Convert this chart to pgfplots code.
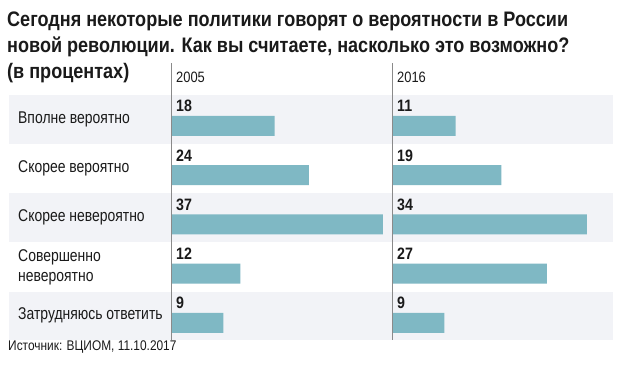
\documentclass[border=0pt]{standalone}
\usepackage{pgfplots}
\pgfplotsset{compat=1.18}
\usepackage{fontspec}
\setmainfont{Liberation Sans}
\newfontfamily\titlefont[FakeStretch=0.86]{Liberation Sans}
\newfontfamily\catfont[FakeStretch=0.82]{Liberation Sans}
\newfontfamily\srcfont[FakeStretch=0.85]{Liberation Sans}
\newfontfamily\numfont[FakeStretch=0.86]{Liberation Sans}
\definecolor{band}{HTML}{F2F3F7}
\definecolor{barc}{HTML}{7FB8C4}
\definecolor{txt}{HTML}{1A1A1A}
\definecolor{divc}{HTML}{8A8A8A}
\begin{document}
\begin{tikzpicture}[x=1pt,y=1pt]
\path[use as bounding box,fill=white] (0,0) rectangle (620,-364);
% row bands
\fill[band] (9,-94.5) rectangle (613,-143.5);
\fill[band] (9,-193) rectangle (613,-242);
\fill[band] (9,-291.5) rectangle (613,-340);
% title
\begin{scope}[every node/.style={anchor=west,font=\titlefont\fontsize{21}{24}\selectfont\bfseries,text=txt,inner sep=0pt}]
\node at (7,-21) {Сегодня некоторые политики говорят о вероятности в России};
\node at (7,-47) {новой революции. Как вы считаете, насколько это возможно?};
\node at (7,-73) {(в процентах)};
\end{scope}
% years
\node[anchor=west,font=\numfont\fontsize{15}{17}\selectfont,text=txt,inner sep=0pt] at (176,-77) {2005};
\node[anchor=west,font=\numfont\fontsize{15}{17}\selectfont,text=txt,inner sep=0pt] at (397,-77) {2016};
% categories
\begin{scope}[every node/.style={anchor=west,font=\catfont\fontsize{17}{20}\selectfont,text=txt,inner sep=0pt,align=left}]
\node at (18,-119) {Вполне вероятно};
\node at (18,-168) {Скорее вероятно};
\node at (18,-217) {Скорее невероятно};
\node at (18,-267) {Совершенно\\невероятно};
\node at (18,-315) {Затрудняюсь ответить};
\end{scope}
% source
\node[anchor=west,font=\srcfont\fontsize{14}{16}\selectfont,text=txt,inner sep=0pt] at (8,-347) {Источник: ВЦИОМ, 11.10.2017};
% panels (row 1 at top = y 5)
\pgfplotsset{panel/.style={anchor=south west, scale only axis, width=220pt, height=246pt,
  xmin=0, xmax=38.6, ymin=0.5, ymax=5.5, hide axis, clip=false,
  /pgf/number format/assume math mode=true},
  lab/.style={only marks, mark=none, nodes near coords, point meta=explicit,
  every node near coord/.append style={anchor=west, inner sep=0pt, xshift=4pt, text=txt, font=\numfont\fontsize{16.5}{18}\selectfont\bfseries}}}
\begin{axis}[panel, at={(172pt,-340pt)}]
\addplot[xbar, bar width=20pt, bar shift=0pt, fill=barc, draw=none] coordinates {(18,4.85) (24,3.85) (37,2.85) (12,1.85) (9,0.85)};
\addplot[lab] coordinates {(0,5.25)[18] (0,4.25)[24] (0,3.25)[37] (0,2.25)[12] (0,1.25)[9]};
\end{axis}
\begin{axis}[panel, at={(393pt,-340pt)}]
\addplot[xbar, bar width=20pt, bar shift=0pt, fill=barc, draw=none] coordinates {(11,4.85) (19,3.85) (34,2.85) (27,1.85) (9,0.85)};
\addplot[lab] coordinates {(0,5.25)[11] (0,4.25)[19] (0,3.25)[34] (0,2.25)[27] (0,1.25)[9]};
\end{axis}
% dividers
\draw[divc,line width=1pt] (171.5,-63) -- (171.5,-340);
\draw[divc,line width=1pt] (392.5,-63) -- (392.5,-340);
\end{tikzpicture}
\end{document}
